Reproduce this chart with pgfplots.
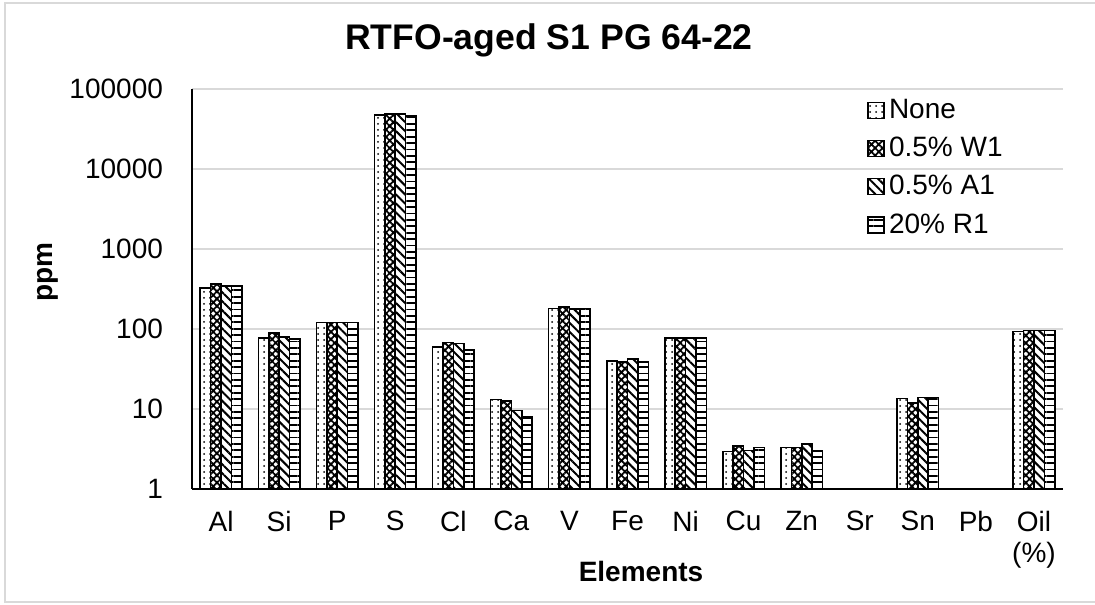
\documentclass[border=0pt]{standalone}
\usepackage{fontspec}
\setmainfont{Liberation Sans}
\usepackage{pgfplots}
\usepackage{pgfplotstable}
\pgfplotsset{compat=1.18}
\usetikzlibrary{patterns.meta}

\definecolor{gridgray}{RGB}{217,217,217}

% Element contents (ppm; oil in %), one row per element position
\pgfplotstableread{
x   None    WOne    AOne    ROne
0   323     366     342     342
1   77      89      80      75
2   121     121     121     121
3   47400   48400   48400   46100
4   59.3    67.8    65.9    54.8
5   13.1    12.6    9.6     8.1
6   180     189     178     180
7   39.9    38.7    42.3    38.7
8   77      77      77      77
9   2.93    3.42    3.02    3.30
10  3.30    3.30    3.66    2.96
12  13.5    11.9    13.9    13.9
14  93.3    96      96      96
}\elements

\begin{document}
\begin{tikzpicture}
% outer chart frame
\draw[line width=1pt, gridgray] (560pt,300.5pt) -- (2.5pt,300.5pt) -- (2.5pt,1.25pt) -- (560pt,1.25pt);

\node[font=\fontsize{17.8}{21}\selectfont\bfseries] at (274.5pt,282pt) {RTFO-aged S1 PG 64-22};
\node[font=\fontsize{14}{17}\selectfont\bfseries, rotate=90] at (24pt,166pt) {ppm};
\node[font=\fontsize{14}{17}\selectfont\bfseries] at (320.5pt,16.5pt) {Elements};

\begin{axis}[
  at={(96pt,57.5pt)}, anchor=south west,
  scale only axis, width=435.5pt, height=200pt,
  ymode=log, ymin=1, ymax=100000,
  xmin=-0.5, xmax=14.5,
  xtick={0,...,14},
  xticklabels={Al,Si,P,S,Cl,Ca,V,Fe,Ni,Cu,Zn,Sr,Sn,Pb,{Oil\\(\%)}},
  ytick={1,10,100,1000,10000,100000},
  yticklabels={1,10,100,1000,10000,100000},
  tick label style={font=\fontsize{14}{15.5}\selectfont},
  xticklabel style={align=center, anchor=north, yshift=-7.5pt},
  yticklabel style={anchor=east, xshift=-11pt},
  major tick length=0pt, minor tick length=0pt,
  axis lines*=left,
  axis line style={-, line width=0.8pt, black},
  ymajorgrids, yminorgrids=false,
  major grid style={gridgray, line width=0.8pt},
  ybar=0pt, bar width=5.2pt,
  every axis plot/.append style={draw=black, line width=0.8pt, fill=white},
  legend style={at={(0.775,0.985)}, anchor=north west, draw=none, fill=none,
    font=\fontsize{14}{16}\selectfont, row sep=3.8pt, inner sep=0pt,
    nodes={inner sep=2pt}},
  legend cell align=left,
  legend image code/.code={\draw[#1,line width=0.8pt] (0pt,-4pt) rectangle (8pt,4pt);},
]
\addplot[postaction={pattern={Dots[distance=3pt, radius=0.5pt]}}] table[x=x, y=None] {\elements};
\addplot[postaction={pattern={Hatch[angle=45, distance=2.6pt, line width=0.9pt]}}] table[x=x, y=WOne] {\elements};
\addplot[postaction={pattern={Lines[angle=-45, distance=3.2pt, line width=1pt]}}] table[x=x, y=AOne] {\elements};
\addplot[postaction={pattern={Lines[angle=0, distance=3.2pt, line width=0.9pt]}}] table[x=x, y=ROne] {\elements};
\legend{None, 0.5\% W1, 0.5\% A1, 20\% R1}
\end{axis}

\pgfresetboundingbox
\path[use as bounding box] (0pt,0pt) rectangle (547.5pt,302pt);
\end{tikzpicture}
\end{document}
